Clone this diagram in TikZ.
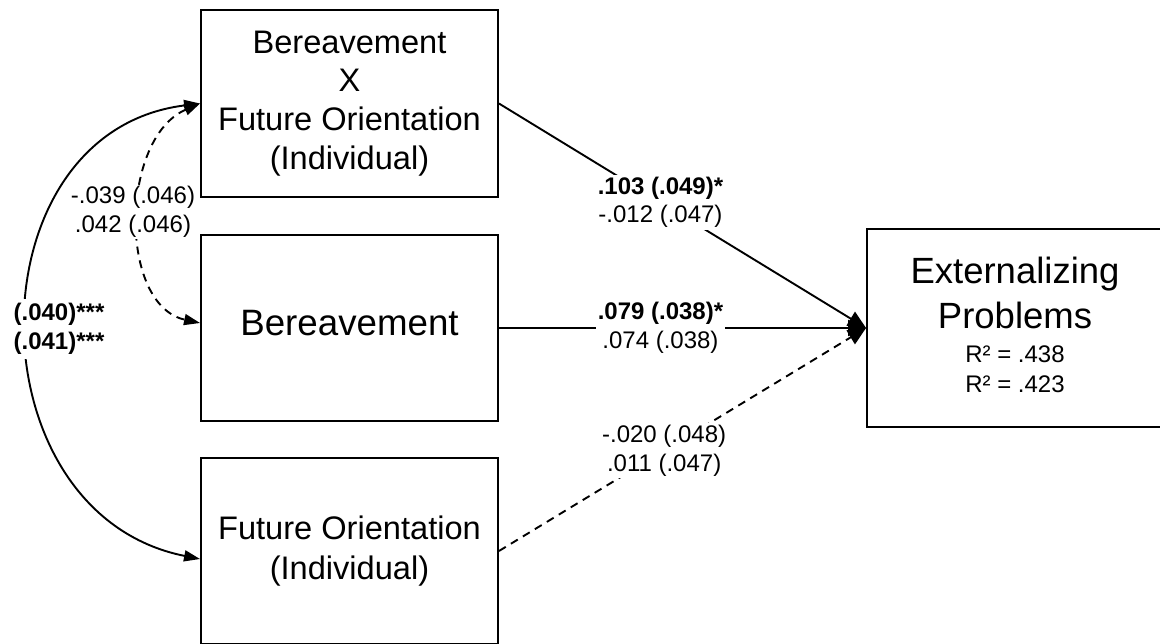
\documentclass[tikz,border=0pt]{standalone}
\usepackage{fontspec}
\setmainfont{Liberation Sans}
\usetikzlibrary{arrows.meta}
\begin{document}
\begin{tikzpicture}[x=1pt,y=-1pt,
  box/.style={draw, line width=1.9pt, minimum width=297pt, minimum height=187pt, inner sep=0pt, align=center},
  lab/.style={fill=white, inner sep=2pt, align=center, font=\fontsize{24}{28.5}\selectfont},
  conn/.style={line width=1.9pt},
  dsh/.style={dash pattern=on 8pt off 6pt},
  tipD/.style={-{Triangle[length=18pt,width=16pt]}},
  tipL/.style={{Triangle[length=16pt,width=11pt]}-{Triangle[length=16pt,width=11pt]}},
  dtxt/.style={font=\fontsize{36.5}{44}\selectfont, anchor=base, inner sep=0pt},
  rtxt/.style={font=\fontsize{24}{28}\selectfont, anchor=base, inner sep=0pt}
]
\useasboundingbox[fill=white] (0,0) rectangle (1160,643);

% boxes
\node[box, font=\fontsize{32.6}{38.7}\selectfont] (A) at (349.5,103.5)
  {Bereavement\\X\\Future Orientation\\(Individual)};
\node[box, minimum height=186pt, font=\fontsize{36.7}{44}\selectfont,
  text height=26.7pt, text depth=12pt] (B) at (349.5,328) {Bereavement};
\node[box, minimum height=186pt, font=\fontsize{32.6}{40}\selectfont] (C) at (349.5,551)
  {Future Orientation\\(Individual)};
\node[box, minimum width=296pt, minimum height=198pt] (D) at (1015,328) {};
\node[dtxt] (D1) at (1015,283) {Externalizing};
\node[dtxt] (D2) at (1015,328) {Problems};
\node[rtxt] (D3) at (1015,362) {R² = .438};
\node[rtxt] (D4) at (1015,392) {R² = .423};

% paths to outcome
\draw[conn, tipD] (A.east) -- node[lab, pos=0.44] (lAD)
  {\textbf{.103 (.049)*}\\-.012 (.047)} (D.west);
\draw[conn, tipD] (B.east) -- node[lab, pos=0.44] (lBD)
  {\textbf{.079 (.038)*}\\.074 (.038)} (D.west);
\draw[conn, dsh, tipD] (C.east) -- node[lab, pos=0.45] (lCD)
  {-.020 (.048)\\.011 (.047)} (D.west);

% covariances
\draw[conn, tipL] (A.west) .. controls (-30,132) and (-30,513) .. ([yshift=-8pt]C.west);
\node[lab, font=\bfseries\fontsize{24}{29}\selectfont, align=left, inner ysep=4pt]
  (cAC) at (59,329) {(.040)***\\(.041)***};
\draw[conn, dsh, tipL] (A.west) .. controls (120,138) and (118,305) .. ([yshift=5pt]B.west);
\node[lab] (cAB) at (133,212) {-.039 (.046)\\.042 (.046)};
\end{tikzpicture}
\end{document}
